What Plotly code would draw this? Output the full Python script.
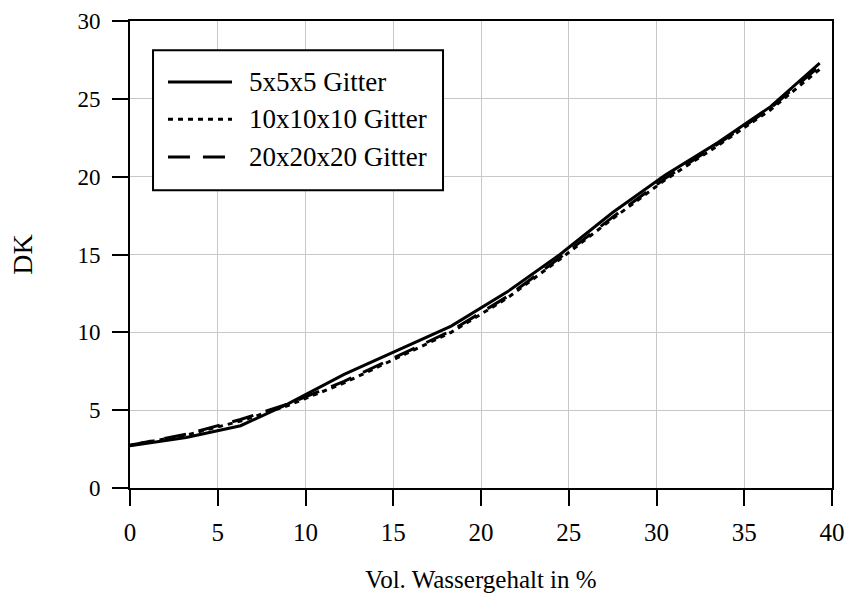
import plotly.graph_objects as go

# Volumetric water content (%) and computed permittivity (DK) for three grid resolutions
water_content = [0, 3.2, 6.3, 9.0, 12.2, 15.5, 18.3, 21.5, 24.5, 27.5, 30.5, 33.5, 36.5, 39.3]
dk_5x5x5 = [2.72, 3.25, 4.0, 5.4, 7.3, 9.0, 10.4, 12.6, 15.0, 17.7, 20.1, 22.2, 24.5, 27.3]
dk_10x10x10 = [2.75, 3.4, 4.3, 5.3, 6.75, 8.5, 10.0, 12.2, 14.7, 17.3, 19.8, 22.0, 24.3, 26.9]
dk_20x20x20 = [2.75, 3.45, 4.4, 5.4, 6.85, 8.6, 10.1, 12.3, 14.8, 17.4, 19.9, 22.1, 24.4, 27.1]

series_names = ["5x5x5 Gitter", "10x10x10 Gitter", "20x20x20 Gitter"]
series_values = [dk_5x5x5, dk_10x10x10, dk_20x20x20]
series_dash = ["solid", "5px,5px", "22px,13px"]

x_ticks = [0, 5, 10, 15, 20, 25, 30, 35, 40]
y_ticks = [0, 5, 10, 15, 20, 25, 30]

FONT = "Liberation Serif"

fig = go.Figure()
for name, values, dash in zip(series_names, series_values, series_dash):
    fig.add_trace(go.Scatter(
        x=water_content, y=values, name=name, mode="lines",
        line=dict(color="black", width=3, dash=dash),
        showlegend=False,
    ))

# Boxed legend with long line samples, placed in the upper-left of the plot area
shapes = [dict(type="rect", xref="paper", yref="paper",
               x0=0.0328, x1=0.4459, y0=0.6377, y1=0.9373,
               line=dict(color="black", width=2), fillcolor="white", layer="above")]
annotations = []
entry_y = [0.8695, 0.7897, 0.7090]
for name, dash, yy in zip(series_names, series_dash, entry_y):
    shapes.append(dict(type="line", xref="paper", yref="paper",
                       x0=0.0541, x1=0.1453, y0=yy, y1=yy,
                       line=dict(color="black", width=3, dash=dash), layer="above"))
    annotations.append(dict(xref="paper", yref="paper", x=0.1667, y=yy,
                            xanchor="left", yanchor="middle", showarrow=False,
                            text=name, font=dict(family=FONT, size=27, color="black")))

axis_common = dict(
    showline=True, mirror=True, linecolor="black", linewidth=2,
    ticks="outside", ticklen=16, tickwidth=2, tickcolor="black",
    showgrid=True, gridcolor="#c8c8c8", gridwidth=1, zeroline=False,
    automargin=False,
)

fig.update_layout(
    width=845, height=594,
    margin=dict(l=130, r=13, t=21, b=106),
    paper_bgcolor="white", plot_bgcolor="white",
    font=dict(family=FONT, color="black"),
    shapes=shapes, annotations=annotations,
    xaxis=dict(range=[0, 40], tickvals=x_ticks, tickfont=dict(size=25),
               ticklabelstandoff=5,
               title=dict(text="Vol. Wassergehalt in %", font=dict(size=25), standoff=25),
               **axis_common),
    yaxis=dict(range=[0, 30], tickvals=y_ticks, tickfont=dict(size=23),
               ticklabelstandoff=7,
               title=dict(text="DK", font=dict(size=28), standoff=37),
               **axis_common),
)

fig.write_html("out.html")
